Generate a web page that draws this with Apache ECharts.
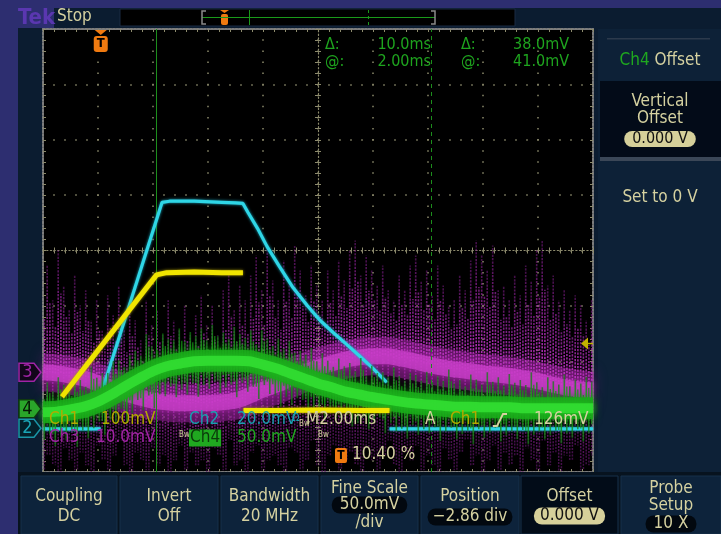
<!DOCTYPE html>
<html><head><meta charset="utf-8">
<script src="https://cdn.jsdelivr.net/npm/echarts@6/dist/echarts.min.js"></script>
<style>html,body{margin:0;padding:0;background:#0b1c30;overflow:hidden}#c{width:721px;height:534px}</style>
</head><body><div id="c"></div>
<script>
// ===== DATA (x: ms from left edge of screen, 2 ms/div; y: divisions from centre) =====
const cyanT = [0, 2.1, 2.1, 2.18, 4.33, 4.6, 5.5, 6.5, 7.0, 7.27, 7.45, 7.8, 8.15, 8.6, 9.09, 9.6, 10.07, 10.55, 11.05, 11.5, 11.96, 12.5, 12.5, 12.6, 20];
const cyanV = [-3.22, -3.22, null, -2.49, 0.87, 0.89, 0.89, 0.87, 0.86, 0.85, 0.69, 0.40, 0.07, -0.29, -0.67, -0.99, -1.26, -1.48, -1.70, -1.90, -2.11, -2.38, null, -3.22, -3.22];

const yelT = [0.69, 4.13, 4.5, 5.5, 6.5, 7.27, 7.27, 7.29, 8.5, 10, 11.5, 12.6];
const yelV = [-2.64, -0.44, -0.40, -0.39, -0.40, -0.40, null, -2.89, -2.89, -2.88, -2.89, -2.89];

const coreStep = 0.5;   // ms between core samples
const magMid = [-2.20,-2.22,-2.26,-2.31,-2.40,-2.49,-2.58,-2.65,-2.71,-2.74,-2.76,-2.76,-2.76,-2.74,-2.71,-2.62,-2.51,-2.42,-2.31,-2.20,-2.11,-2.04,-1.97,-1.93,-1.91,-1.91,-1.95,-2.00,-2.06,-2.11,-2.15,-2.18,-2.22,-2.24,-2.27,-2.31,-2.36,-2.42,-2.47,-2.51,-2.53];
const grnMid = [-2.92,-2.91,-2.87,-2.82,-2.73,-2.60,-2.45,-2.31,-2.18,-2.09,-2.04,-2.00,-1.99,-1.99,-1.99,-2.00,-2.06,-2.13,-2.22,-2.31,-2.40,-2.47,-2.55,-2.60,-2.65,-2.69,-2.73,-2.76,-2.78,-2.80,-2.82,-2.82,-2.83,-2.83,-2.83,-2.85,-2.85,-2.85,-2.85,-2.85,-2.85];

const spikeStep = 0.2;  // ms between noise samples
const magUp = [-0.72,-0.27,-0.90,0.00,-0.63,-1.08,-0.45,-0.99,-0.72,-1.26,
 -0.90,-1.44,-0.81,-1.17,-0.63,-1.44,-0.99,-1.26,-1.62,-0.90,
 -1.35,-1.08,-1.53,-0.90,-1.26,-1.44,-0.99,-1.53,-1.17,-0.81,
 -1.35,-0.99,-1.53,-0.72,-0.36,-1.08,-0.63,-0.90,-0.45,-0.09,
 -0.72,0.09,-0.54,-0.90,-0.18,-0.63,0.09,-0.36,-0.81,-0.27,
 -0.63,-0.90,-0.36,-0.72,-0.18,-0.54,0.00,0.18,-0.45,-0.09,
 -0.36,-0.63,-0.27,-0.72,-0.90,-0.45,-0.72,-0.27,-0.09,-0.54,
 -0.36,-0.81,-0.27,-0.63,-0.99,-0.90,-0.45,-0.72,-0.18,0.18,
 -0.09,-0.36,0.09,-0.72,-0.63,-0.90,-0.45,-0.81,-0.27,-0.54,
 0.00,0.18,-0.63,-0.45,-0.90,-0.72,-1.08,-0.81,-0.99,-1.26,-0.90];
const magDown = [-3.97,-3.70,-3.88,-4.00,-3.57,-3.79,-3.97,-3.65,-3.88,-4.00,
 -3.52,-3.79,-3.97,-3.70,-3.43,-3.88,-4.00,-3.65,-3.79,-3.97,
 -3.57,-3.88,-3.70,-4.00,-3.79,-3.52,-3.97,-3.65,-3.88,-3.79,
 -4.00,-3.57,-3.70,-3.97,-3.43,-3.88,-3.79,-4.00,-3.65,-3.52,
 -3.97,-3.79,-3.70,-3.88,-4.00,-3.57,-3.65,-3.97,-3.79,-3.43,
 -3.88,-4.00,-3.70,-3.52,-3.97,-3.79,-3.65,-3.88,-4.00,-3.57,
 -3.79,-3.97,-3.70,-3.43,-3.88,-4.00,-3.65,-3.79,-3.52,-3.97,
 -3.70,-3.88,-4.00,-3.57,-3.79,-3.97,-3.65,-3.43,-3.88,-3.70,
 -4.00,-3.79,-3.52,-3.97,-3.65,-3.88,-3.70,-4.00,-3.57,-3.79,
 -3.97,-3.43,-3.88,-3.65,-4.00,-3.70,-3.79,-3.52,-3.97,-3.88,-3.70];
const grnUpAmp = [0.42,0.54,0.37,0.62,0.45,0.40,0.57,0.48,0.36,0.64,
 0.43,0.52,0.39,0.60,0.47,0.34,0.56,0.50,0.41,0.67,
 0.45,0.38,0.59,0.49,0.42,0.63,0.40,0.53,0.46,0.58,
 0.37,0.65,0.44,0.51,0.39,0.61,0.48,0.42,0.56,0.36,
 0.62,0.47,0.41,0.54,0.45,0.59,0.38,0.50,0.43,0.64,
 0.40,0.55,0.48,0.37,0.60,0.46,0.52,0.42,0.66,0.39,
 0.57,0.44,0.49,0.41,0.62,0.47,0.38,0.55,0.51,0.43,
 0.59,0.40,0.53,0.45,0.67,0.42,0.48,0.37,0.58,0.50,
 0.41,0.63,0.46,0.54,0.39,0.60,0.44,0.51,0.42,0.65,
 0.47,0.38,0.56,0.49,0.43,0.61,0.40,0.52,0.45,0.57,0.48];
const grnDnAmp = [0.50,0.40,0.62,0.45,0.55,0.38,0.68,0.43,0.57,0.48,
 0.36,0.60,0.46,0.53,0.41,0.65,0.49,0.39,0.58,0.44,
 0.67,0.42,0.54,0.37,0.61,0.47,0.56,0.40,0.64,0.45,
 0.51,0.38,0.59,0.48,0.43,0.66,0.40,0.55,0.46,0.62,
 0.37,0.53,0.49,0.69,0.42,0.57,0.45,0.39,0.60,0.50,
 0.44,0.65,0.38,0.56,0.47,0.41,0.63,0.52,0.40,0.58,
 0.46,0.36,0.61,0.43,0.54,0.49,0.67,0.39,0.57,0.45,
 0.52,0.41,0.64,0.47,0.38,0.59,0.50,0.43,0.68,0.40,
 0.55,0.46,0.37,0.62,0.51,0.44,0.58,0.39,0.65,0.48,
 0.42,0.56,0.49,0.40,0.63,0.46,0.53,0.38,0.60,0.45,0.51];

const cursorT = [4.1, 14.1];      // cursor positions (ms)
const trigT = 2.1;                // trigger position (ms)
const trigLevel = -1.68;          // trigger level (div)
const chBase = {ch3: -2.20, ch4: -2.86, ch2: -3.21};
const readCursor = [['Δ:', '10.0ms', 'Δ:', '38.0mV'], ['@:', '2.00ms', '@:', '41.0mV']];

// ===== CHART =====
const FONT = "'DejaVu Sans Condensed','Liberation Sans Narrow','DejaVu Sans',sans-serif";
const BEIGE = '#d5d1a0';
const GRAT = '#8c8a6c';
const chart = echarts.init(document.getElementById('c'), null, {renderer: 'canvas'});
const G = {left: 43, top: 29, width: 550, height: 443};

const pair = (T, V) => T.map((t, i) => [t, V[i] === null ? null : V[i]]);
const coreAt = (arr, t) => arr[Math.round(t / coreStep)];
const magUpData = magUp.map((v, i) => [i * spikeStep, v, coreAt(magMid, i * spikeStep)]);
const magDnData = magDown.map((v, i) => [i * spikeStep, coreAt(magMid, i * spikeStep), v]);
const grnSpData = grnUpAmp.map((v, i) => [i * spikeStep, coreAt(grnMid, i * spikeStep) + v, coreAt(grnMid, i * spikeStep) - grnDnAmp[i]]);
const magCore = magMid.map((v, i) => [i * coreStep, v]);
const grnCore = grnMid.map((v, i) => [i * coreStep, v]);

const grad = (y1, y2, c1, c2) => ({type: 'linear', global: true, x: 0, y: y1, x2: 0, y2: y2, colorStops: [{offset: 0, color: c1}, {offset: 1, color: c2}]});
// noisy vertical streaks per sample (value1 = top, value2 = bottom)
function streak(cTop, cBot, w, dash) {
  return function (params, api) {
    const a = api.coord([api.value(0), api.value(1)]);
    const b = api.coord([api.value(0), api.value(2)]);
    const i = params.dataIndex;
    return {type: 'group', children: [
      {type: 'line', shape: {x1: a[0] - 1.3, y1: a[1], x2: b[0] - 1.3, y2: b[1]},
        style: {stroke: grad(a[1], b[1], cTop, cBot), lineWidth: w, lineDash: dash, lineDashOffset: (i * 3) % 5}},
      {type: 'line', shape: {x1: a[0] + 1.4, y1: a[1] + (b[1] - a[1]) * 0.35, x2: b[0] + 1.4, y2: b[1]},
        style: {stroke: grad(a[1], b[1], cTop, cBot), lineWidth: w, lineDash: dash, lineDashOffset: (i * 7) % 4}}
    ]};
  };
}
function gStreak(cIn, cOut, w) {
  return function (params, api) {
    const t = api.value(0);
    const top = api.coord([t, api.value(1)]);
    const bot = api.coord([t, api.value(2)]);
    const mid = (top[1] + bot[1]) / 2;
    return {type: 'group', children: [
      {type: 'line', shape: {x1: top[0] - 1.2, y1: top[1], x2: top[0] - 1.2, y2: mid}, style: {stroke: grad(top[1], mid, cOut, cIn), lineWidth: w}},
      {type: 'line', shape: {x1: top[0] + 1.3, y1: mid, x2: top[0] + 1.3, y2: bot[1]}, style: {stroke: grad(mid, bot[1], cIn, cOut), lineWidth: w}},
      {type: 'line', shape: {x1: top[0] + 1.3, y1: top[1] + (mid - top[1]) * 0.4, x2: top[0] + 1.3, y2: mid}, style: {stroke: grad(top[1], mid, cOut, cIn), lineWidth: w * 0.8}},
      {type: 'line', shape: {x1: top[0] - 1.2, y1: mid, x2: top[0] - 1.2, y2: bot[1] - (bot[1] - mid) * 0.45}, style: {stroke: grad(mid, bot[1], cIn, cOut), lineWidth: w * 0.8}}
    ]};
  };
}

const hideAx = {axisLine: {show: false}, axisTick: {show: false}, axisLabel: {show: false}, splitLine: {show: false}};
const dotted = (dir) => ({show: true, lineStyle: {color: GRAT, width: 1.5, type: dir ? [1.5, 9.58] : [1.5, 9.5], dashOffset: 0.75}});
const tickAx = (inside, line) => ({
  axisLine: {show: line, onZero: true, lineStyle: {color: GRAT, width: 1.2, type: [1.2, 2.5]}},
  axisTick: {show: true, inside: inside, length: 3, lineStyle: {color: GRAT, width: 1}},
  minorTick: {show: true, splitNumber: 5, length: 3, lineStyle: {color: GRAT, width: 1}},
  axisLabel: {show: false}, splitLine: {show: false}
});
const border = (pos) => ({
  position: pos,
  axisLine: {show: true, onZero: false, lineStyle: {color: '#7d7d7d', width: 2, type: [2, 1.5]}},
  axisTick: {show: true, inside: true, length: 3, lineStyle: {color: GRAT, width: 1}},
  minorTick: {show: true, splitNumber: 5, length: 3, lineStyle: {color: GRAT, width: 1}},
  axisLabel: {show: false}, splitLine: {show: false}
});

const option = {
  animation: false,
  backgroundColor: '#0b1c30',
  grid: [
    Object.assign({show: true, backgroundColor: '#000', borderWidth: 0}, G),
    Object.assign({}, G), Object.assign({}, G), Object.assign({}, G)
  ],
  xAxis: [
    Object.assign({gridIndex: 0, type: 'value', min: 0, max: 20, interval: 2}, hideAx, {splitLine: dotted(true)}),
    Object.assign({gridIndex: 1, type: 'value', min: -10, max: 10, interval: 2}, tickAx(true, true)),
    Object.assign({gridIndex: 2, type: 'value', min: -10, max: 10, interval: 2}, tickAx(false, false)),
    Object.assign({gridIndex: 3, type: 'value', min: 0, max: 20, interval: 2}, border('bottom')),
    Object.assign({gridIndex: 3, type: 'value', min: 0, max: 20, interval: 2}, border('top'))
  ],
  yAxis: [
    Object.assign({gridIndex: 0, type: 'value', min: -4, max: 4, interval: 1}, hideAx, {splitLine: dotted(false)}),
    Object.assign({gridIndex: 1, type: 'value', min: -4, max: 4, interval: 1}, tickAx(true, true)),
    Object.assign({gridIndex: 2, type: 'value', min: -4, max: 4, interval: 1}, tickAx(false, false)),
    Object.assign({gridIndex: 3, type: 'value', min: -4, max: 4, interval: 1}, border('left')),
    Object.assign({gridIndex: 3, type: 'value', min: -4, max: 4, interval: 1}, border('right'))
  ],
  series: [
    {type: 'line', name: 'Ch3 halo', z: 2, data: magCore, symbol: 'none', smooth: 0.3,
      lineStyle: {color: 'rgba(155,35,160,0.5)', width: 38, shadowBlur: 14, shadowColor: 'rgba(150,30,150,0.7)'}},
    {type: 'custom', name: 'Ch3 down', z: 3, clip: true, data: magDnData, encode: {x: 0, y: [1, 2]},
      renderItem: streak('rgba(165,40,170,0.95)', 'rgba(100,22,110,0.6)', 1.5, [2, 1.2])},
    {type: 'custom', name: 'Ch3 up', z: 3, clip: true, data: magUpData, encode: {x: 0, y: [1, 2]},
      renderItem: streak('rgba(130,28,140,0.5)', 'rgba(200,55,205,1)', 1.6, [2.2, 1.2])},
    {type: 'line', name: 'Ch3', z: 4, data: magCore, symbol: 'none', smooth: 0.3,
      lineStyle: {color: 'rgba(205,65,205,0.7)', width: 16, shadowBlur: 6, shadowColor: '#b02cb0'},
      markLine: {silent: true, symbol: 'none', label: {show: false},
        lineStyle: {color: '#1c8e1c', width: 1},
        data: [{xAxis: cursorT[0], lineStyle: {type: 'solid'}}, {xAxis: cursorT[1], lineStyle: {type: [4, 4]}}]}},
    {type: 'line', name: 'Ch2', z: 5, data: pair(cyanT, cyanV), symbol: 'none', connectNulls: false,
      lineStyle: {color: '#2fd6e6', width: 3.2, shadowBlur: 3, shadowColor: '#1aa8c0'}},
    {type: 'custom', name: 'Ch4 noise', z: 6, clip: true, data: grnSpData, encode: {x: 0, y: [1, 2]},
      renderItem: gStreak('rgba(30,180,30,1)', 'rgba(15,120,15,0.7)', 1.6)},
    {type: 'line', name: 'Ch4', z: 7, data: grnCore, symbol: 'none', smooth: 0.3,
      lineStyle: {color: 'rgba(26,170,26,0.85)', width: 22, shadowBlur: 10, shadowColor: '#0e900e'}},
    {type: 'line', name: 'Ch4 core', z: 7, data: grnCore, symbol: 'none', smooth: 0.3,
      lineStyle: {color: 'rgba(50,222,50,0.9)', width: 10, shadowBlur: 8, shadowColor: '#22c022'}},
    {type: 'line', name: 'Ch1', z: 8, data: pair(yelT, yelV), symbol: 'none', connectNulls: false,
      lineStyle: {color: '#f0e400', width: 5, shadowBlur: 3, shadowColor: '#b0a000'}}
  ]
};
chart.setOption(option);

// ===== decorations (instrument frame, menus, readouts) =====
const P = (t, v) => chart.convertToPixel({gridIndex: 0}, [t, v]);
const g = [];
const rect = (x, y, w, h, fill, extra, z) => g.push({type: 'rect', z: z || 1, silent: true, shape: Object.assign({x, y, width: w, height: h}, (extra && extra.r) ? {r: extra.r} : {}), style: Object.assign({fill}, extra && extra.style || {})});
const text = (t, x, y, fill, size, align, extra, z) => g.push({type: 'text', z: z || 60, silent: true,
  style: Object.assign({text: t, x, y, fill, fontSize: size, fontFamily: FONT, textAlign: align || 'left', textVerticalAlign: 'middle', align: align || 'left', verticalAlign: 'middle'}, extra || {})});
const poly = (pts, fill, stroke, z, closed, lw) => g.push({type: closed === false ? 'polyline' : 'polygon', z: z || 2, silent: true, shape: {points: pts}, style: closed === false ? {stroke, fill: null, lineWidth: lw || 1} : {fill, stroke: stroke || null, lineWidth: lw || 1}});
const line = (x1, y1, x2, y2, stroke, lw, dash, z) => g.push({type: 'line', z: z || 2, silent: true, shape: {x1, y1, x2, y2}, style: {stroke, lineWidth: lw || 1, lineDash: dash || null}});

const PURP = '#2d2e70';
rect(0, 0, 721, 8, PURP);
rect(0, 0, 18, 534, PURP);
rect(0, 0, 54, 28, PURP);
// record view
rect(120, 9, 395, 17, '#000', {style: {stroke: '#1a2b42', lineWidth: 1}});
line(202, 17.5, 435, 17.5, '#1a9a1a', 1);
poly([[206, 11], [202, 11], [202, 24], [206, 24]], null, '#8a8a8a', 3, false, 1.5);
poly([[431, 11], [435, 11], [435, 24], [431, 24]], null, '#8a8a8a', 3, false, 1.5);
line(249.5, 10, 249.5, 25, '#1a9a1a', 1);
line(368.5, 10, 368.5, 25, '#1a9a1a', 1, [3, 3]);
poly([[220, 10], [229, 10], [224.5, 13]], '#f07a10');
rect(221, 14, 7, 11, '#f07a10', {r: 2});
text('Tek', 18, 18, '#5a37b0', 22, 'left', {fontWeight: 'bold'});
text('Stop', 57, 17, BEIGE, 17);

// right menu panel
rect(598, 29, 123, 447, '#0d2137');
rect(607, 38, 103, 1.5, '#2c3a4c');
rect(600, 81, 121, 76, '#030b18');
rect(600, 157, 121, 4, '#3b4757');
text('{g|Ch4} {b|Offset}', 660, 61, BEIGE, 17, 'center', {rich: {g: {fill: '#1fa81f', fontSize: 17, fontFamily: FONT}, b: {fill: BEIGE, fontSize: 17, fontFamily: FONT}}});
text('Vertical', 660, 102, BEIGE, 17, 'center');
text('Offset', 660, 119, BEIGE, 17, 'center');
text('0.000 V', 660, 139, '#111', 16, 'center', {backgroundColor: '#d6d09a', borderRadius: 8, padding: [0, 8]});
text('Set to 0 V', 660, 198, BEIGE, 17, 'center');

// bottom buttons
rect(18, 472, 703, 62, '#07131f');
const btnX = [[21, 117], [120, 218], [221, 318], [321, 418], [421, 519], [521, 618], [621, 721]];
btnX.forEach((b, i) => rect(b[0], 476, b[1] - b[0], 58, i === 5 ? '#020c18' : '#0d233b', {style: {stroke: '#17304a', lineWidth: 1}}));
const bc = btnX.map(b => (b[0] + b[1]) / 2);
const BF = 17;
text('Coupling', bc[0], 497, BEIGE, BF, 'center'); text('DC', bc[0], 517, BEIGE, BF, 'center');
text('Invert', bc[1], 497, BEIGE, BF, 'center'); text('Off', bc[1], 517, BEIGE, BF, 'center');
text('Bandwidth', bc[2], 497, BEIGE, BF, 'center'); text('20 MHz', bc[2], 517, BEIGE, BF, 'center');
text('Fine Scale', bc[3], 489, BEIGE, BF, 'center');
text('50.0mV', bc[3], 505, BEIGE, BF, 'center', {backgroundColor: '#02080f', borderRadius: 8, padding: [0, 8]});
text('/div', bc[3], 523, BEIGE, BF, 'center');
text('Position', bc[4], 497, BEIGE, BF, 'center');
text('−2.86 div', bc[4], 517, BEIGE, BF, 'center', {backgroundColor: '#02080f', borderRadius: 8, padding: [0, 5]});
text('Offset', bc[5], 497, BEIGE, BF, 'center');
text('0.000 V', bc[5], 516, '#111', BF, 'center', {backgroundColor: '#d6d09a', borderRadius: 8, padding: [0, 6]});
text('Probe', bc[6], 489, BEIGE, BF, 'center');
text('Setup', bc[6], 506, BEIGE, BF, 'center');
text('10 X', bc[6], 524, BEIGE, BF, 'center', {backgroundColor: '#02080f', borderRadius: 8, padding: [0, 8]});

// cursor readout
const GR = '#1ea41e';
readCursor.forEach((r, k) => {
  const y = 45 + k * 17;
  text(r[0], 325, y, GR, 16); text(r[1], 431, y, GR, 16, 'right');
  text(r[2], 461, y, GR, 16); text(r[3], 569, y, GR, 16, 'right');
});

// channel readouts in graticule
text('Ch1', 49, 420, '#b2aa00', 17); text('100mV', 101, 420, '#b2aa00', 17);
text('Ch2', 189, 420, '#1a9fb0', 17); text('20.0mV', 237, 420, '#1a9fb0', 17);
text('Ω', 292, 418, '#1a9fb0', 11); text('Bw', 299, 424, BEIGE, 8);
text('M2.00ms', 306, 420, BEIGE, 17); text('A', 425, 420, BEIGE, 17);
text('Ch1', 450, 420, '#b2aa00', 17);
poly([[493, 426], [497, 426], [503, 414], [507, 414]], null, BEIGE, 60, false, 1.8);
text('126mV', 534, 420, BEIGE, 17);
text('Ch3', 49, 438, '#a324a6', 17); text('10.0mV', 96, 438, '#a324a6', 17);
text('Bw', 179, 435, BEIGE, 8);
text('Ch4', 189, 438, '#0b3a0b', 17, 'left', {backgroundColor: '#20a820', padding: [0, 1]});
text('50.0mV', 237, 438, '#20a820', 17);
text('Bw', 318, 435, BEIGE, 8);
rect(335, 448, 12, 15, '#f07a10', {r: 2}, 60);
text('T', 341, 455.5, '#000', 12, 'center', {fontWeight: 'bold'});
text('10.40 %', 352, 455, BEIGE, 17);

// trigger position marker (top of graticule)
const tp = P(trigT, 4);
poly([[tp[0] - 6, 30], [tp[0] + 6, 30], [tp[0], 35]], '#f07a10', null, 60);
rect(tp[0] - 7, 36, 14, 16, '#f07a10', {r: 3}, 60);
text('T', tp[0], 44, '#000', 13, 'center', {fontWeight: 'bold'}, 61);

// trigger level marker (right edge)
const tl = P(20, trigLevel);
poly([[tl[0] - 12, tl[1]], [tl[0] - 5, tl[1] - 6], [tl[0] - 5, tl[1] + 6]], '#c2b200', null, 60);
line(tl[0] - 6, tl[1], tl[0], tl[1], '#c2b200', 1.5, null, 60);

// channel ground markers (left edge)
function chMark(v, label, fill, stroke, tcol) {
  const p = P(0, v); const y = p[1];
  poly([[19, y - 9], [34, y - 9], [41, y], [34, y + 9], [19, y + 9]], fill, stroke, 60, true, 1.5);
  text(label, 27.5, y + 0.5, tcol, 18, 'center', null, 61);
}
chMark(chBase.ch3, '3', '#12061a', '#a024a6', '#a024a6');
chMark(chBase.ch4, '4', '#2aa52a', '#0f3a0f', '#061806');
chMark(chBase.ch2, '2', '#04202a', '#1a95a6', '#1aa5b6');

chart.setOption({graphic: {elements: g}});
</script>
</body></html>
